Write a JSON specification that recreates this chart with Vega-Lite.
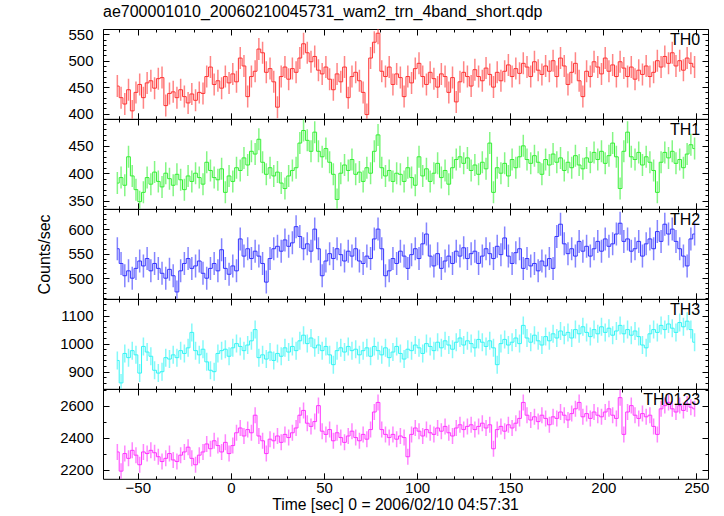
{
"$schema": "https://vega.github.io/schema/vega-lite/v6.json",
"background": "white",
"padding": {"left": 36, "top": 4, "right": 8, "bottom": 2},
"bounds": "flush",
"spacing": 0,
"config": {
 "view": {"stroke": null},
 "font": "Liberation Sans",
 "axis": {"labelFont": "Liberation Sans", "labelFontSize": 15, "labelColor": "#000", "titleFont": "Liberation Sans", "titleFontSize": 16, "titleFontWeight": "normal", "titleColor": "#000", "domainColor": "#000", "tickColor": "#000", "grid": false, "labelFlush": false, "tickWidth": 1, "domainWidth": 1}
},
"datasets": {"lc": [
{"t":-61,"a":452,"b":382,"c":560,"d":940,"e":2310},
{"t":-59,"a":430,"b":392,"c":530,"d":860,"e":2190},
{"t":-57,"a":418,"b":378,"c":505,"d":965,"e":2300},
{"t":-55,"a":445,"b":430,"c":515,"d":950,"e":2270},
{"t":-53,"a":405,"b":395,"c":500,"d":975,"e":2320},
{"t":-51,"a":440,"b":370,"c":520,"d":960,"e":2290},
{"t":-49,"a":455,"b":348,"c":535,"d":895,"e":2230},
{"t":-47,"a":430,"b":365,"c":525,"d":990,"e":2310},
{"t":-45,"a":458,"b":392,"c":540,"d":970,"e":2300},
{"t":-43,"a":462,"b":380,"c":515,"d":955,"e":2320},
{"t":-41,"a":448,"b":402,"c":530,"d":905,"e":2305},
{"t":-39,"a":466,"b":385,"c":520,"d":895,"e":2280},
{"t":-37,"a":468,"b":375,"c":510,"d":900,"e":2250},
{"t":-35,"a":415,"b":400,"c":500,"d":950,"e":2270},
{"t":-33,"a":438,"b":390,"c":518,"d":945,"e":2300},
{"t":-31,"a":441,"b":378,"c":505,"d":960,"e":2260},
{"t":-29,"a":430,"b":398,"c":472,"d":950,"e":2250},
{"t":-27,"a":445,"b":388,"c":515,"d":975,"e":2290},
{"t":-25,"a":432,"b":370,"c":530,"d":965,"e":2310},
{"t":-23,"a":420,"b":395,"c":540,"d":985,"e":2340},
{"t":-21,"a":437,"b":385,"c":520,"d":1040,"e":2270},
{"t":-19,"a":425,"b":400,"c":525,"d":975,"e":2230},
{"t":-17,"a":440,"b":392,"c":535,"d":960,"e":2290},
{"t":-15,"a":438,"b":380,"c":510,"d":980,"e":2310},
{"t":-13,"a":470,"b":420,"c":500,"d":935,"e":2360},
{"t":-11,"a":488,"b":405,"c":520,"d":905,"e":2330},
{"t":-9,"a":455,"b":392,"c":530,"d":900,"e":2380},
{"t":-7,"a":462,"b":388,"c":515,"d":965,"e":2350},
{"t":-5,"a":448,"b":408,"c":558,"d":975,"e":2310},
{"t":-3,"a":470,"b":365,"c":520,"d":980,"e":2370},
{"t":-1,"a":458,"b":395,"c":508,"d":955,"e":2300},
{"t":1,"a":475,"b":385,"c":525,"d":985,"e":2350},
{"t":3,"a":460,"b":410,"c":515,"d":1000,"e":2430},
{"t":5,"a":505,"b":405,"c":580,"d":990,"e":2460},
{"t":7,"a":490,"b":428,"c":545,"d":975,"e":2410},
{"t":9,"a":432,"b":415,"c":560,"d":995,"e":2450},
{"t":11,"a":470,"b":440,"c":540,"d":1010,"e":2430},
{"t":13,"a":480,"b":435,"c":555,"d":1050,"e":2540},
{"t":15,"a":522,"b":462,"c":545,"d":950,"e":2410},
{"t":17,"a":515,"b":420,"c":530,"d":960,"e":2380},
{"t":19,"a":478,"b":398,"c":492,"d":945,"e":2300},
{"t":21,"a":485,"b":410,"c":540,"d":970,"e":2390},
{"t":23,"a":460,"b":395,"c":560,"d":940,"e":2380},
{"t":25,"a":412,"b":402,"c":565,"d":965,"e":2410},
{"t":27,"a":470,"b":382,"c":555,"d":955,"e":2370},
{"t":29,"a":488,"b":372,"c":578,"d":985,"e":2420},
{"t":31,"a":465,"b":395,"c":565,"d":970,"e":2400},
{"t":33,"a":485,"b":405,"c":572,"d":990,"e":2430},
{"t":35,"a":478,"b":410,"c":605,"d":975,"e":2460},
{"t":37,"a":505,"b":455,"c":585,"d":1010,"e":2540},
{"t":39,"a":532,"b":478,"c":560,"d":1030,"e":2570},
{"t":41,"a":515,"b":460,"c":570,"d":1000,"e":2490},
{"t":43,"a":498,"b":440,"c":555,"d":1020,"e":2470},
{"t":45,"a":508,"b":475,"c":600,"d":985,"e":2500},
{"t":47,"a":482,"b":440,"c":560,"d":995,"e":2600},
{"t":49,"a":475,"b":430,"c":505,"d":975,"e":2440},
{"t":51,"a":488,"b":445,"c":535,"d":990,"e":2420},
{"t":53,"a":465,"b":420,"c":550,"d":960,"e":2450},
{"t":55,"a":445,"b":398,"c":540,"d":925,"e":2380},
{"t":57,"a":475,"b":352,"c":560,"d":975,"e":2430},
{"t":59,"a":460,"b":400,"c":548,"d":985,"e":2400},
{"t":61,"a":488,"b":415,"c":535,"d":970,"e":2370},
{"t":63,"a":430,"b":405,"c":555,"d":990,"e":2410},
{"t":65,"a":470,"b":425,"c":545,"d":975,"e":2440},
{"t":67,"a":478,"b":398,"c":560,"d":980,"e":2400},
{"t":69,"a":462,"b":402,"c":535,"d":960,"e":2380},
{"t":71,"a":440,"b":385,"c":530,"d":975,"e":2420},
{"t":73,"a":398,"b":410,"c":545,"d":985,"e":2390},
{"t":75,"a":505,"b":400,"c":540,"d":955,"e":2450},
{"t":77,"a":535,"b":440,"c":580,"d":990,"e":2560},
{"t":79,"a":552,"b":470,"c":600,"d":975,"e":2620},
{"t":81,"a":480,"b":410,"c":560,"d":960,"e":2450},
{"t":83,"a":470,"b":395,"c":505,"d":985,"e":2420},
{"t":85,"a":488,"b":405,"c":515,"d":950,"e":2400},
{"t":87,"a":455,"b":385,"c":540,"d":970,"e":2420},
{"t":89,"a":475,"b":400,"c":530,"d":990,"e":2390},
{"t":91,"a":468,"b":398,"c":555,"d":965,"e":2410},
{"t":93,"a":432,"b":385,"c":545,"d":945,"e":2400},
{"t":95,"a":470,"b":410,"c":520,"d":980,"e":2280},
{"t":97,"a":458,"b":392,"c":548,"d":975,"e":2420},
{"t":99,"a":485,"b":378,"c":560,"d":995,"e":2460},
{"t":101,"a":495,"b":430,"c":540,"d":985,"e":2440},
{"t":103,"a":470,"b":395,"c":570,"d":965,"e":2410},
{"t":105,"a":455,"b":408,"c":590,"d":1000,"e":2450},
{"t":107,"a":478,"b":385,"c":545,"d":990,"e":2430},
{"t":109,"a":466,"b":400,"c":525,"d":975,"e":2420},
{"t":111,"a":450,"b":418,"c":550,"d":1005,"e":2460},
{"t":113,"a":475,"b":392,"c":520,"d":985,"e":2440},
{"t":115,"a":470,"b":405,"c":535,"d":1010,"e":2470},
{"t":117,"a":440,"b":380,"c":545,"d":995,"e":2430},
{"t":119,"a":468,"b":410,"c":530,"d":980,"e":2410},
{"t":121,"a":422,"b":425,"c":555,"d":1005,"e":2460},
{"t":123,"a":460,"b":430,"c":545,"d":1020,"e":2480},
{"t":125,"a":478,"b":418,"c":562,"d":995,"e":2450},
{"t":127,"a":470,"b":428,"c":540,"d":1010,"e":2470},
{"t":129,"a":452,"b":405,"c":550,"d":1000,"e":2480},
{"t":131,"a":483,"b":415,"c":555,"d":985,"e":2450},
{"t":133,"a":470,"b":398,"c":530,"d":1015,"e":2470},
{"t":135,"a":462,"b":420,"c":545,"d":1005,"e":2490},
{"t":137,"a":486,"b":408,"c":560,"d":990,"e":2460},
{"t":139,"a":474,"b":455,"c":550,"d":1010,"e":2480},
{"t":141,"a":450,"b":365,"c":540,"d":985,"e":2330},
{"t":143,"a":478,"b":410,"c":565,"d":925,"e":2450},
{"t":145,"a":462,"b":400,"c":548,"d":1000,"e":2470},
{"t":147,"a":480,"b":418,"c":582,"d":1015,"e":2440},
{"t":149,"a":492,"b":395,"c":545,"d":995,"e":2480},
{"t":151,"a":470,"b":425,"c":530,"d":1005,"e":2460},
{"t":153,"a":485,"b":410,"c":552,"d":1020,"e":2490},
{"t":155,"a":476,"b":430,"c":560,"d":1000,"e":2520},
{"t":157,"a":495,"b":450,"c":520,"d":1065,"e":2620},
{"t":159,"a":488,"b":425,"c":540,"d":1020,"e":2540},
{"t":161,"a":470,"b":418,"c":525,"d":1005,"e":2510},
{"t":163,"a":498,"b":432,"c":530,"d":1030,"e":2530},
{"t":165,"a":482,"b":420,"c":515,"d":1010,"e":2500},
{"t":167,"a":474,"b":398,"c":535,"d":995,"e":2540},
{"t":169,"a":490,"b":425,"c":525,"d":1025,"e":2520},
{"t":171,"a":480,"b":415,"c":540,"d":1010,"e":2480},
{"t":173,"a":500,"b":435,"c":520,"d":1035,"e":2530},
{"t":175,"a":470,"b":420,"c":585,"d":1020,"e":2520},
{"t":177,"a":505,"b":428,"c":610,"d":1045,"e":2560},
{"t":179,"a":490,"b":405,"c":570,"d":1030,"e":2540},
{"t":181,"a":455,"b":420,"c":550,"d":1040,"e":2510},
{"t":183,"a":478,"b":410,"c":560,"d":1020,"e":2550},
{"t":185,"a":495,"b":432,"c":545,"d":1050,"e":2580},
{"t":187,"a":462,"b":415,"c":575,"d":1035,"e":2620},
{"t":189,"a":432,"b":408,"c":555,"d":1060,"e":2530},
{"t":191,"a":480,"b":428,"c":565,"d":1040,"e":2550},
{"t":193,"a":470,"b":420,"c":545,"d":1025,"e":2520},
{"t":195,"a":498,"b":438,"c":560,"d":1050,"e":2560},
{"t":197,"a":488,"b":425,"c":575,"d":1035,"e":2540},
{"t":199,"a":475,"b":440,"c":555,"d":1060,"e":2530},
{"t":201,"a":505,"b":418,"c":580,"d":1040,"e":2560},
{"t":203,"a":480,"b":432,"c":565,"d":1055,"e":2580},
{"t":205,"a":492,"b":455,"c":570,"d":1030,"e":2540},
{"t":207,"a":470,"b":430,"c":590,"d":1045,"e":2520},
{"t":209,"a":498,"b":372,"c":612,"d":1065,"e":2650},
{"t":211,"a":486,"b":440,"c":575,"d":1035,"e":2420},
{"t":213,"a":470,"b":475,"c":580,"d":1050,"e":2560},
{"t":215,"a":488,"b":430,"c":555,"d":1030,"e":2600},
{"t":217,"a":465,"b":425,"c":560,"d":1045,"e":2540},
{"t":219,"a":482,"b":438,"c":575,"d":1025,"e":2520},
{"t":221,"a":474,"b":415,"c":545,"d":995,"e":2550},
{"t":223,"a":490,"b":430,"c":570,"d":985,"e":2530},
{"t":225,"a":470,"b":420,"c":580,"d":1035,"e":2540},
{"t":227,"a":478,"b":405,"c":560,"d":1050,"e":2470},
{"t":229,"a":500,"b":365,"c":595,"d":1040,"e":2420},
{"t":231,"a":488,"b":420,"c":575,"d":1065,"e":2580},
{"t":233,"a":508,"b":438,"c":610,"d":1050,"e":2600},
{"t":235,"a":495,"b":428,"c":590,"d":1070,"e":2620},
{"t":237,"a":515,"b":440,"c":600,"d":1055,"e":2580},
{"t":239,"a":490,"b":418,"c":575,"d":1040,"e":2560},
{"t":241,"a":500,"b":425,"c":560,"d":1075,"e":2600},
{"t":243,"a":482,"b":410,"c":545,"d":1060,"e":2570},
{"t":245,"a":505,"b":435,"c":525,"d":1080,"e":2610},
{"t":247,"a":495,"b":452,"c":580,"d":1050,"e":2590},
{"t":249,"a":488,"b":445,"c":590,"d":1005,"e":2580}
]},
"vconcat": [
{
 "width": 605, "height": 89.8,
 "title": {"text": "ae700001010_20060210045731_wam2_trn_4band_short.qdp", "anchor": "start", "frame": "group", "fontSize": 16, "fontWeight": "normal", "font": "Liberation Sans", "color": "#000", "baseline": "alphabetic", "offset": -6},
 "data": {"name": "lc"},
 "resolve": {"axis": {"x": "independent", "y": "independent"}},
 "layer": [
  {"mark": {"type": "tick", "orient": "vertical", "size": 22, "thickness": 1.5, "color": "#ff3333", "opacity": 0.6, "clip": true},
   "encoding": {
    "x": {"field": "t", "type": "quantitative", "scale": {"domain": [-68.7, 256.2], "nice": false, "zero": false}, "axis": {"orient": "bottom", "values": [-50,0,50,100,150,200,250], "tickSize": -6, "labels": false, "title": null}},
    "y": {"field": "a", "type": "quantitative", "scale": {"domain": [390, 560], "nice": false, "zero": false}, "axis": {"orient": "left", "values": [400,450,500,550], "format": "d", "tickSize": -6, "labelPadding": 16, "title": null}}}},
  {"mark": {"type": "line", "interpolate": "step", "color": "#ff3333", "strokeWidth": 1, "clip": true},
   "encoding": {
    "x": {"field": "t", "type": "quantitative", "scale": {"domain": [-68.7, 256.2], "nice": false, "zero": false}, "axis": {"orient": "top", "values": [-50,0,50,100,150,200,250], "tickSize": -6, "labels": false, "title": null}},
    "y": {"field": "a", "type": "quantitative", "scale": {"domain": [390, 560], "nice": false, "zero": false}, "axis": {"orient": "right", "values": [400,450,500,550], "tickSize": -6, "labels": false, "title": null}}}},
  {"mark": {"type": "point", "opacity": 0},
   "encoding": {
    "x": {"field": "t", "type": "quantitative", "scale": {"domain": [-68.7, 256.2], "nice": false, "zero": false}, "axis": {"orient": "bottom", "values": [-60,-50,-40,-30,-20,-10,0,10,20,30,40,50,60,70,80,90,100,110,120,130,140,150,160,170,180,190,200,210,220,230,240,250], "tickSize": -3, "labels": false, "domain": false, "title": null}},
    "y": {"field": "a", "type": "quantitative", "scale": {"domain": [390, 560], "nice": false, "zero": false}, "axis": {"orient": "left", "values": [390,400,410,420,430,440,450,460,470,480,490,500,510,520,530,540,550,560], "tickSize": -3, "labels": false, "domain": false, "title": null}}}},
  {"mark": {"type": "point", "opacity": 0},
   "encoding": {
    "x": {"field": "t", "type": "quantitative", "scale": {"domain": [-68.7, 256.2], "nice": false, "zero": false}, "axis": {"orient": "top", "values": [-60,-50,-40,-30,-20,-10,0,10,20,30,40,50,60,70,80,90,100,110,120,130,140,150,160,170,180,190,200,210,220,230,240,250], "tickSize": -3, "labels": false, "domain": false, "title": null}},
    "y": {"field": "a", "type": "quantitative", "scale": {"domain": [390, 560], "nice": false, "zero": false}, "axis": {"orient": "right", "values": [390,400,410,420,430,440,450,460,470,480,490,500,510,520,530,540,550,560], "tickSize": -3, "labels": false, "domain": false, "title": null}}}},
  {"data": {"values": [{}]},
   "mark": {"type": "text", "align": "right", "baseline": "alphabetic", "fontSize": 16, "color": "#000", "font": "Liberation Sans"},
   "encoding": {
    "x": {"datum": 252, "type": "quantitative", "scale": {"domain": [-68.7, 256.2], "nice": false, "zero": false}, "axis": null},
    "y": {"datum": 530, "type": "quantitative", "scale": {"domain": [390, 560], "nice": false, "zero": false}, "axis": null},
    "text": {"value": "TH0"}}}
 ]
},
{
 "width": 605, "height": 89.8,
 "data": {"name": "lc"},
 "resolve": {"axis": {"x": "independent", "y": "independent"}},
 "layer": [
  {"mark": {"type": "tick", "orient": "vertical", "size": 22, "thickness": 1.5, "color": "#33f033", "opacity": 0.6, "clip": true},
   "encoding": {
    "x": {"field": "t", "type": "quantitative", "scale": {"domain": [-68.7, 256.2], "nice": false, "zero": false}, "axis": {"orient": "bottom", "values": [-50,0,50,100,150,200,250], "tickSize": -6, "labels": false, "title": null}},
    "y": {"field": "b", "type": "quantitative", "scale": {"domain": [335, 499], "nice": false, "zero": false}, "axis": {"orient": "left", "values": [350,400,450], "format": "d", "tickSize": -6, "labelPadding": 16, "title": null}}}},
  {"mark": {"type": "line", "interpolate": "step", "color": "#33f033", "strokeWidth": 1, "clip": true},
   "encoding": {
    "x": {"field": "t", "type": "quantitative", "scale": {"domain": [-68.7, 256.2], "nice": false, "zero": false}, "axis": {"orient": "top", "values": [-50,0,50,100,150,200,250], "tickSize": -6, "labels": false, "title": null}},
    "y": {"field": "b", "type": "quantitative", "scale": {"domain": [335, 499], "nice": false, "zero": false}, "axis": {"orient": "right", "values": [350,400,450], "tickSize": -6, "labels": false, "title": null}}}},
  {"mark": {"type": "point", "opacity": 0},
   "encoding": {
    "x": {"field": "t", "type": "quantitative", "scale": {"domain": [-68.7, 256.2], "nice": false, "zero": false}, "axis": {"orient": "bottom", "values": [-60,-50,-40,-30,-20,-10,0,10,20,30,40,50,60,70,80,90,100,110,120,130,140,150,160,170,180,190,200,210,220,230,240,250], "tickSize": -3, "labels": false, "domain": false, "title": null}},
    "y": {"field": "b", "type": "quantitative", "scale": {"domain": [335, 499], "nice": false, "zero": false}, "axis": {"orient": "left", "values": [340,350,360,370,380,390,400,410,420,430,440,450,460,470,480,490], "tickSize": -3, "labels": false, "domain": false, "title": null}}}},
  {"mark": {"type": "point", "opacity": 0},
   "encoding": {
    "x": {"field": "t", "type": "quantitative", "scale": {"domain": [-68.7, 256.2], "nice": false, "zero": false}, "axis": {"orient": "top", "values": [-60,-50,-40,-30,-20,-10,0,10,20,30,40,50,60,70,80,90,100,110,120,130,140,150,160,170,180,190,200,210,220,230,240,250], "tickSize": -3, "labels": false, "domain": false, "title": null}},
    "y": {"field": "b", "type": "quantitative", "scale": {"domain": [335, 499], "nice": false, "zero": false}, "axis": {"orient": "right", "values": [340,350,360,370,380,390,400,410,420,430,440,450,460,470,480,490], "tickSize": -3, "labels": false, "domain": false, "title": null}}}},
  {"data": {"values": [{}]},
   "mark": {"type": "text", "align": "right", "baseline": "alphabetic", "fontSize": 16, "color": "#000", "font": "Liberation Sans"},
   "encoding": {
    "x": {"datum": 252, "type": "quantitative", "scale": {"domain": [-68.7, 256.2], "nice": false, "zero": false}, "axis": null},
    "y": {"datum": 470, "type": "quantitative", "scale": {"domain": [335, 499], "nice": false, "zero": false}, "axis": null},
    "text": {"value": "TH1"}}}
 ]
},
{
 "width": 605, "height": 89.8,
 "data": {"name": "lc"},
 "resolve": {"axis": {"x": "independent", "y": "independent"}},
 "layer": [
  {"mark": {"type": "tick", "orient": "vertical", "size": 23, "thickness": 1.5, "color": "#3333ff", "opacity": 0.6, "clip": true},
   "encoding": {
    "x": {"field": "t", "type": "quantitative", "scale": {"domain": [-68.7, 256.2], "nice": false, "zero": false}, "axis": {"orient": "bottom", "values": [-50,0,50,100,150,200,250], "tickSize": -6, "labels": false, "title": null}},
    "y": {"field": "c", "type": "quantitative", "scale": {"domain": [458, 641], "nice": false, "zero": false}, "axis": {"orient": "left", "values": [500,550,600], "format": "d", "tickSize": -6, "labelPadding": 16, "title": "Counts/sec", "titlePadding": 15}}}},
  {"mark": {"type": "line", "interpolate": "step", "color": "#3333ff", "strokeWidth": 1, "clip": true},
   "encoding": {
    "x": {"field": "t", "type": "quantitative", "scale": {"domain": [-68.7, 256.2], "nice": false, "zero": false}, "axis": {"orient": "top", "values": [-50,0,50,100,150,200,250], "tickSize": -6, "labels": false, "title": null}},
    "y": {"field": "c", "type": "quantitative", "scale": {"domain": [458, 641], "nice": false, "zero": false}, "axis": {"orient": "right", "values": [500,550,600], "tickSize": -6, "labels": false, "title": null}}}},
  {"mark": {"type": "point", "opacity": 0},
   "encoding": {
    "x": {"field": "t", "type": "quantitative", "scale": {"domain": [-68.7, 256.2], "nice": false, "zero": false}, "axis": {"orient": "bottom", "values": [-60,-50,-40,-30,-20,-10,0,10,20,30,40,50,60,70,80,90,100,110,120,130,140,150,160,170,180,190,200,210,220,230,240,250], "tickSize": -3, "labels": false, "domain": false, "title": null}},
    "y": {"field": "c", "type": "quantitative", "scale": {"domain": [458, 641], "nice": false, "zero": false}, "axis": {"orient": "left", "values": [460,470,480,490,500,510,520,530,540,550,560,570,580,590,600,610,620,630,640], "tickSize": -3, "labels": false, "domain": false, "title": null}}}},
  {"mark": {"type": "point", "opacity": 0},
   "encoding": {
    "x": {"field": "t", "type": "quantitative", "scale": {"domain": [-68.7, 256.2], "nice": false, "zero": false}, "axis": {"orient": "top", "values": [-60,-50,-40,-30,-20,-10,0,10,20,30,40,50,60,70,80,90,100,110,120,130,140,150,160,170,180,190,200,210,220,230,240,250], "tickSize": -3, "labels": false, "domain": false, "title": null}},
    "y": {"field": "c", "type": "quantitative", "scale": {"domain": [458, 641], "nice": false, "zero": false}, "axis": {"orient": "right", "values": [460,470,480,490,500,510,520,530,540,550,560,570,580,590,600,610,620,630,640], "tickSize": -3, "labels": false, "domain": false, "title": null}}}},
  {"data": {"values": [{}]},
   "mark": {"type": "text", "align": "right", "baseline": "alphabetic", "fontSize": 16, "color": "#000", "font": "Liberation Sans"},
   "encoding": {
    "x": {"datum": 252, "type": "quantitative", "scale": {"domain": [-68.7, 256.2], "nice": false, "zero": false}, "axis": null},
    "y": {"datum": 608, "type": "quantitative", "scale": {"domain": [458, 641], "nice": false, "zero": false}, "axis": null},
    "text": {"value": "TH2"}}}
 ]
},
{
 "width": 605, "height": 89.8,
 "data": {"name": "lc"},
 "resolve": {"axis": {"x": "independent", "y": "independent"}},
 "layer": [
  {"mark": {"type": "tick", "orient": "vertical", "size": 18, "thickness": 1.5, "color": "#33f5f5", "opacity": 0.6, "clip": true},
   "encoding": {
    "x": {"field": "t", "type": "quantitative", "scale": {"domain": [-68.7, 256.2], "nice": false, "zero": false}, "axis": {"orient": "bottom", "values": [-50,0,50,100,150,200,250], "tickSize": -6, "labels": false, "title": null}},
    "y": {"field": "d", "type": "quantitative", "scale": {"domain": [839, 1159], "nice": false, "zero": false}, "axis": {"orient": "left", "values": [900,1000,1100], "format": "d", "tickSize": -6, "labelPadding": 16, "title": null}}}},
  {"mark": {"type": "line", "interpolate": "step", "color": "#33f5f5", "strokeWidth": 1, "clip": true},
   "encoding": {
    "x": {"field": "t", "type": "quantitative", "scale": {"domain": [-68.7, 256.2], "nice": false, "zero": false}, "axis": {"orient": "top", "values": [-50,0,50,100,150,200,250], "tickSize": -6, "labels": false, "title": null}},
    "y": {"field": "d", "type": "quantitative", "scale": {"domain": [839, 1159], "nice": false, "zero": false}, "axis": {"orient": "right", "values": [900,1000,1100], "tickSize": -6, "labels": false, "title": null}}}},
  {"mark": {"type": "point", "opacity": 0},
   "encoding": {
    "x": {"field": "t", "type": "quantitative", "scale": {"domain": [-68.7, 256.2], "nice": false, "zero": false}, "axis": {"orient": "bottom", "values": [-60,-50,-40,-30,-20,-10,0,10,20,30,40,50,60,70,80,90,100,110,120,130,140,150,160,170,180,190,200,210,220,230,240,250], "tickSize": -3, "labels": false, "domain": false, "title": null}},
    "y": {"field": "d", "type": "quantitative", "scale": {"domain": [839, 1159], "nice": false, "zero": false}, "axis": {"orient": "left", "values": [840,860,880,900,920,940,960,980,1000,1020,1040,1060,1080,1100,1120,1140], "tickSize": -3, "labels": false, "domain": false, "title": null}}}},
  {"mark": {"type": "point", "opacity": 0},
   "encoding": {
    "x": {"field": "t", "type": "quantitative", "scale": {"domain": [-68.7, 256.2], "nice": false, "zero": false}, "axis": {"orient": "top", "values": [-60,-50,-40,-30,-20,-10,0,10,20,30,40,50,60,70,80,90,100,110,120,130,140,150,160,170,180,190,200,210,220,230,240,250], "tickSize": -3, "labels": false, "domain": false, "title": null}},
    "y": {"field": "d", "type": "quantitative", "scale": {"domain": [839, 1159], "nice": false, "zero": false}, "axis": {"orient": "right", "values": [840,860,880,900,920,940,960,980,1000,1020,1040,1060,1080,1100,1120,1140], "tickSize": -3, "labels": false, "domain": false, "title": null}}}},
  {"data": {"values": [{}]},
   "mark": {"type": "text", "align": "right", "baseline": "alphabetic", "fontSize": 16, "color": "#000", "font": "Liberation Sans"},
   "encoding": {
    "x": {"datum": 252, "type": "quantitative", "scale": {"domain": [-68.7, 256.2], "nice": false, "zero": false}, "axis": null},
    "y": {"datum": 1103, "type": "quantitative", "scale": {"domain": [839, 1159], "nice": false, "zero": false}, "axis": null},
    "text": {"value": "TH3"}}}
 ]
},
{
 "width": 605, "height": 89.8,
 "data": {"name": "lc"},
 "resolve": {"axis": {"x": "independent", "y": "independent"}},
 "layer": [
  {"mark": {"type": "tick", "orient": "vertical", "size": 16, "thickness": 1.5, "color": "#ff33ff", "opacity": 0.6, "clip": true},
   "encoding": {
    "x": {"field": "t", "type": "quantitative", "scale": {"domain": [-68.7, 256.2], "nice": false, "zero": false}, "axis": {"orient": "bottom", "values": [-50,0,50,100,150,200,250], "tickSize": -6, "labelPadding": 8, "title": "Time [sec] 0 = 2006/02/10 04:57:31", "titleFontSize": 15.7, "titlePadding": 2, "titleX": 292}},
    "y": {"field": "e", "type": "quantitative", "scale": {"domain": [2142, 2704], "nice": false, "zero": false}, "axis": {"orient": "left", "values": [2200,2400,2600], "format": "d", "tickSize": -6, "labelPadding": 16, "title": null}}}},
  {"mark": {"type": "line", "interpolate": "step", "color": "#ff33ff", "strokeWidth": 1, "clip": true},
   "encoding": {
    "x": {"field": "t", "type": "quantitative", "scale": {"domain": [-68.7, 256.2], "nice": false, "zero": false}, "axis": {"orient": "top", "values": [-50,0,50,100,150,200,250], "tickSize": -6, "labels": false, "title": null}},
    "y": {"field": "e", "type": "quantitative", "scale": {"domain": [2142, 2704], "nice": false, "zero": false}, "axis": {"orient": "right", "values": [2200,2400,2600], "tickSize": -6, "labels": false, "title": null}}}},
  {"mark": {"type": "point", "opacity": 0},
   "encoding": {
    "x": {"field": "t", "type": "quantitative", "scale": {"domain": [-68.7, 256.2], "nice": false, "zero": false}, "axis": {"orient": "bottom", "values": [-60,-50,-40,-30,-20,-10,0,10,20,30,40,50,60,70,80,90,100,110,120,130,140,150,160,170,180,190,200,210,220,230,240,250], "tickSize": -3, "labels": false, "domain": false, "title": null}},
    "y": {"field": "e", "type": "quantitative", "scale": {"domain": [2142, 2704], "nice": false, "zero": false}, "axis": {"orient": "left", "values": [2200,2300,2400,2500,2600,2700], "tickSize": -3, "labels": false, "domain": false, "title": null}}}},
  {"mark": {"type": "point", "opacity": 0},
   "encoding": {
    "x": {"field": "t", "type": "quantitative", "scale": {"domain": [-68.7, 256.2], "nice": false, "zero": false}, "axis": {"orient": "top", "values": [-60,-50,-40,-30,-20,-10,0,10,20,30,40,50,60,70,80,90,100,110,120,130,140,150,160,170,180,190,200,210,220,230,240,250], "tickSize": -3, "labels": false, "domain": false, "title": null}},
    "y": {"field": "e", "type": "quantitative", "scale": {"domain": [2142, 2704], "nice": false, "zero": false}, "axis": {"orient": "right", "values": [2200,2300,2400,2500,2600,2700], "tickSize": -3, "labels": false, "domain": false, "title": null}}}},
  {"data": {"values": [{}]},
   "mark": {"type": "text", "align": "right", "baseline": "alphabetic", "fontSize": 16, "color": "#000", "font": "Liberation Sans"},
   "encoding": {
    "x": {"datum": 252, "type": "quantitative", "scale": {"domain": [-68.7, 256.2], "nice": false, "zero": false}, "axis": null},
    "y": {"datum": 2605, "type": "quantitative", "scale": {"domain": [2142, 2704], "nice": false, "zero": false}, "axis": null},
    "text": {"value": "TH0123"}}}
 ]
}
]
}
